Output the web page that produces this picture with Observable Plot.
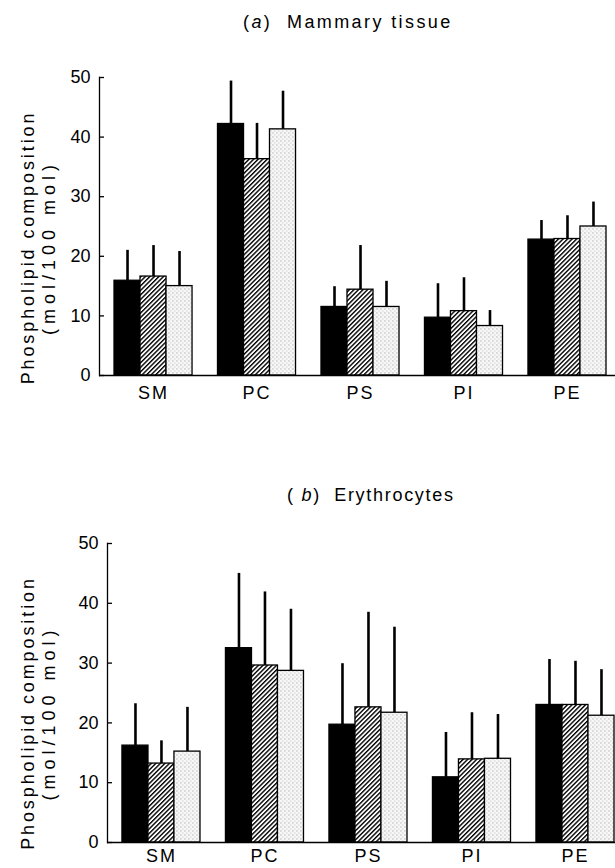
<!DOCTYPE html>
<html>
<head>
<meta charset="utf-8">
<script src="https://cdn.jsdelivr.net/npm/d3@7"></script>
<script src="https://cdn.jsdelivr.net/npm/@observablehq/plot@0.6"></script>
<style>
  body { margin: 0; background: #fff; }
  #wrap { position: relative; width: 615px; height: 868px; font-family: "Liberation Sans", Arial, sans-serif; color: #000; overflow: hidden; }
  .panel { position: absolute; left: 0; }
  .ttl { position: absolute; font-size: 18px; line-height: 18px; white-space: pre; }
  [aria-label="x-axis tick label"] text { letter-spacing: 2px; }
</style>
</head>
<body>
<div id="wrap">
  <div class="panel" id="pa" style="top:0"></div>
  <div class="panel" id="pb" style="top:434px"></div>
  <div class="ttl" style="left:243px; top:13px; letter-spacing:2.4px">(<i>a</i>)  Mammary tissue</div>
  <div class="ttl" style="left:287px; top:486px; letter-spacing:1.7px">( <i>b</i>)  Erythrocytes</div>
</div>
<script>
// Categories and series
const groups = ["SM", "PC", "PS", "PI", "PE"];
const series = ["Series 1", "Series 2", "Series 3"];
const yTicks = [0, 10, 20, 30, 40, 50];
const yTitle = "Phospholipid composition\n(mol/100 mol)";

// (a) Mammary tissue: means and SD (mol/100 mol)
const mammaryMean1 = [15.9, 42.2, 11.5, 9.7, 22.8];
const mammaryMean2 = [16.6, 36.3, 14.4, 10.8, 22.9];
const mammaryMean3 = [15.0, 41.3, 11.5, 8.3, 25.0];
const mammarySD1 = [5.1, 7.2, 3.4, 5.7, 3.2];
const mammarySD2 = [5.2, 6.0, 7.4, 5.6, 3.9];
const mammarySD3 = [5.8, 6.4, 4.3, 2.6, 4.1];

// (b) Erythrocytes: means and SD (mol/100 mol)
const eryMean1 = [16.2, 32.5, 19.7, 10.9, 23.0];
const eryMean2 = [13.2, 29.6, 22.6, 13.9, 23.0];
const eryMean3 = [15.2, 28.7, 21.7, 14.0, 21.2];
const erySD1 = [7.0, 12.5, 10.2, 7.5, 7.6];
const erySD2 = [3.8, 12.3, 15.9, 7.8, 7.3];
const erySD3 = [7.4, 10.3, 14.3, 7.4, 7.7];

function rows(means, sds) {
  return groups.map((g, i) => ({group: g, value: means[i], sd: sds[i]}));
}

function panel(id, meansList, sdsList, layout) {
  const bw = 26; // single bar width within the 3-bar band
  const fills = [
    "black",
    `url(#${id}-hatch)`,
    `url(#${id}-dots)`
  ];
  const insets = [[0, 2 * bw], [bw, bw], [2 * bw, 0]];
  const offs = [-bw, 0, bw];
  const marks = [];
  meansList.forEach((m, k) => {
    const data = rows(m, sdsList[k]);
    marks.push(Plot.ruleX(data, {
      x: "group", y1: "value", y2: d => d.value + d.sd,
      dx: offs[k], stroke: "black", strokeWidth: 2.6
    }));
    marks.push(Plot.barY(data, {
      x: "group", y: "value", fill: fills[k], stroke: "black", strokeWidth: 1.3,
      insetLeft: insets[k][0], insetRight: insets[k][1]
    }));
  });
  marks.push(Plot.ruleY([0], {stroke: "black", strokeWidth: 1.4}));
  marks.push(Plot.frame({anchor: "left", stroke: "black", strokeWidth: 1.3}));
  marks.push(Plot.axisY({ticks: yTicks, tickSize: -5, tickPadding: 14, tickFormat: d3.format("d"), label: null, strokeWidth: 1.3}));
  marks.push(Plot.axisX({tickSize: 0, tickPadding: layout.xPad, label: null}));
  marks.push(Plot.text([yTitle], {
    frameAnchor: "left", textAnchor: "middle", lineAnchor: "middle", rotate: -90,
    dx: layout.titleDx, dy: layout.titleDy, lineHeight: 1.17, fontSize: 18
  }));

  const svg = Plot.plot({
    width: 615,
    height: 434,
    marginLeft: layout.marginLeft,
    marginRight: 0,
    marginTop: layout.marginTop,
    marginBottom: layout.marginBottom,
    style: {fontFamily: "Liberation Sans, Arial, sans-serif", fontSize: "18px", color: "black", background: "white", overflow: "visible"},
    x: {domain: groups, paddingInner: 0.246, paddingOuter: layout.po, align: layout.align, round: false, axis: null},
    y: {domain: [0, 50], axis: null},
    marks
  });

  const tspans = d3.select(svg).selectAll('g[aria-label="text"] text tspan');
  d3.select(svg).selectAll('g[aria-label="text"] text').style("letter-spacing", "2.9px");
  tspans.filter((d, i) => i === 1).style("letter-spacing", "5px");

  const defs = d3.select(svg).insert("defs", ":first-child");
  const h = defs.append("pattern").attr("id", `${id}-hatch`).attr("patternUnits", "userSpaceOnUse")
    .attr("width", 3.2).attr("height", 3.2).attr("patternTransform", "rotate(45)");
  h.append("rect").attr("width", 3.2).attr("height", 3.2).attr("fill", "white");
  h.append("line").attr("x1", 0.7).attr("x2", 0.7).attr("y1", 0).attr("y2", 3.2).attr("stroke", "black").attr("stroke-width", 1.4);
  const p = defs.append("pattern").attr("id", `${id}-dots`).attr("patternUnits", "userSpaceOnUse")
    .attr("width", 4).attr("height", 4);
  p.append("rect").attr("width", 4).attr("height", 4).attr("fill", "#f7f7f7");
  p.append("rect").attr("x", 0.5).attr("y", 0.5).attr("width", 0.9).attr("height", 0.9).attr("fill", "#777");
  p.append("rect").attr("x", 2.5).attr("y", 2.6).attr("width", 0.8).attr("height", 0.8).attr("fill", "#999");
  document.getElementById(id).appendChild(svg);
}

panel("pa", [mammaryMean1, mammaryMean2, mammaryMean3], [mammarySD1, mammarySD2, mammarySD3],
  {marginLeft: 99, marginTop: 77, marginBottom: 59, po: 0.116, align: 0.625, titleDx: -61.5, titleDy: 21, xPad: 11});
panel("pb", [eryMean1, eryMean2, eryMean3], [erySD1, erySD2, erySD3],
  {marginLeft: 107, marginTop: 109, marginBottom: 26, po: 0.077, align: 0.9375, titleDx: -69.5, titleDy: 20, xPad: 7});
</script>
</body>
</html>
